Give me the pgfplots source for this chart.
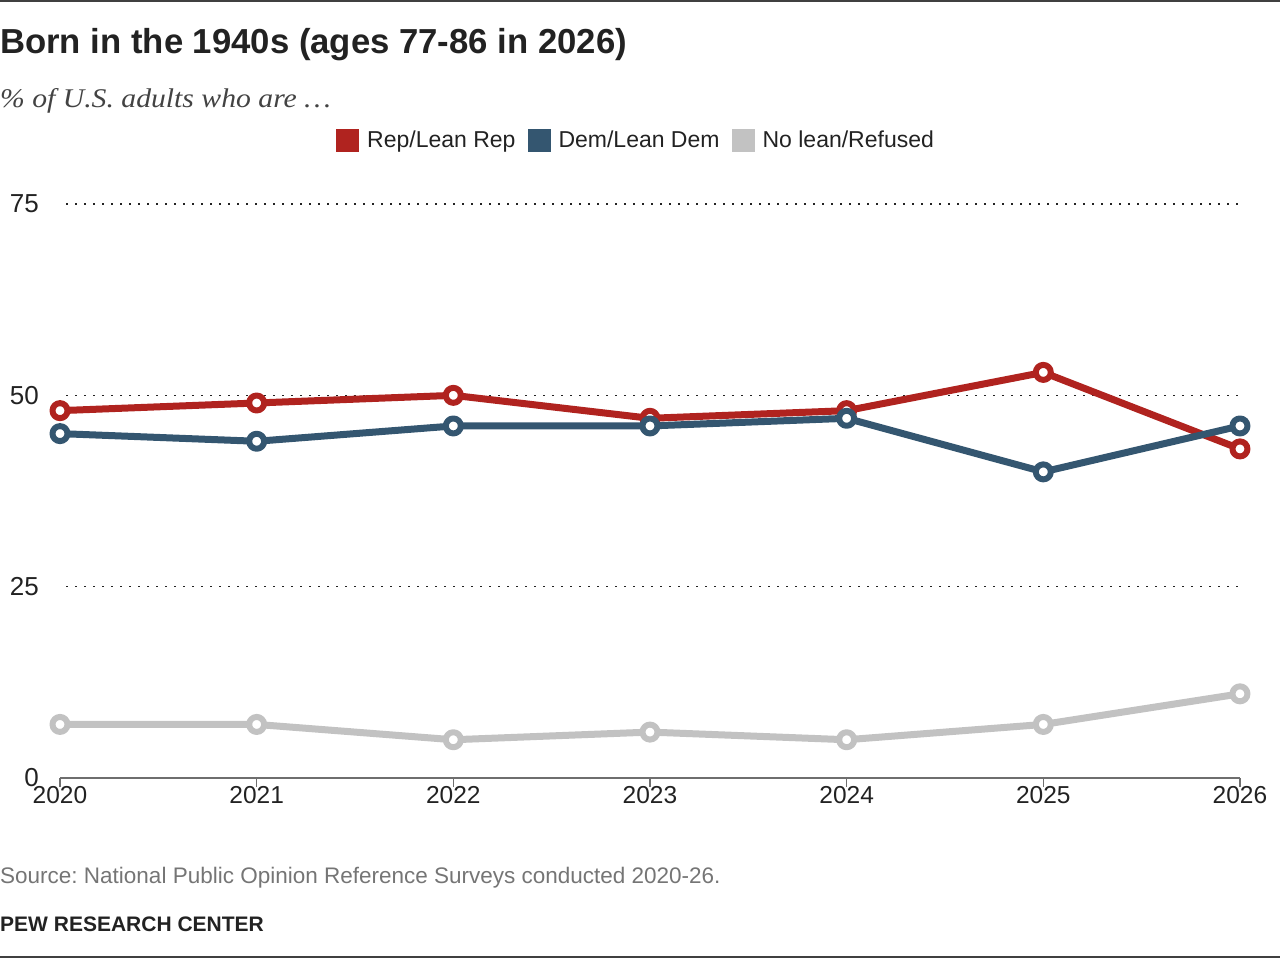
\documentclass[border=0pt]{standalone}
\usepackage{pgfplots}
\usepackage{pgfplotstable}
\pgfplotsset{compat=1.18}
\usepackage{fontspec}
\setmainfont{Liberation Sans}
\newfontfamily\subfont[FakeStretch=1.1]{Liberation Serif}
\frenchspacing

\definecolor{repred}{RGB}{176,35,31}
\definecolor{demblue}{RGB}{52,86,112}
\definecolor{nolean}{RGB}{194,194,194}
\definecolor{ink}{RGB}{34,34,34}
\definecolor{axisgray}{RGB}{110,110,110}
\definecolor{srcgray}{RGB}{117,117,117}
\definecolor{rulegray}{RGB}{64,64,64}

% Party identification, adults born in the 1940s
\pgfplotstableread{
year rep dem none
2020 48 45 7
2021 49 44 7
2022 50 46 5
2023 47 46 6
2024 48 47 5
2025 53 40 7
2026 43 46 11
}\survey

\begin{document}
\begin{tikzpicture}[x=1pt,y=1pt]
\useasboundingbox (0,0) rectangle (1280,-958);
\fill[rulegray] (0,0) rectangle (1280,-2.5);
\fill[rulegray] (0,-955.5) rectangle (1280,-958);

\node[anchor=base west, inner sep=0, font=\fontsize{34.7}{40}\selectfont\bfseries, text=ink] at (0,-54) {Born in the 1940s (ages 77-86 in 2026)};
\node[anchor=base west, inner sep=0, font=\fontsize{27}{32}\selectfont\subfont\itshape, text=ink!85] at (0,-107) {\% of U.S. adults who are \dots};
\node[anchor=base west, inner sep=0, font=\fontsize{22.5}{26}\selectfont, text=srcgray] at (0,-883) {Source: National Public Opinion Reference Surveys conducted 2020-26.};
\node[anchor=base west, inner sep=0, font=\fontsize{21}{25}\selectfont\bfseries, text=ink] at (0,-931.5) {PEW RESEARCH CENTER};

\begin{axis}[
  at={(60pt,-778pt)}, anchor=south west,
  scale only axis, width=1180pt, height=574pt,
  xmin=2020, xmax=2026, ymin=0, ymax=75,
  clip=false,
  axis x line*=bottom, axis y line*=left,
  x axis line style={draw=axisgray, line width=1.5pt, -},
  y axis line style={draw=none},
  xtick={2020,2021,2022,2023,2024,2025,2026},
  xticklabels={2020,2021,2022,2023,2024,2025,2026},
  ytick={25,50,75},
  extra y ticks={0},
  extra y tick style={grid=none},
  ymajorgrids,
  grid style={draw=ink, line width=1.5pt, dash pattern=on 1.5pt off 7.5pt, dash phase=3pt},
  tick align=outside,
  major tick length=9pt,
  xtick style={draw=axisgray, line width=1.5pt},
  ytick style={draw=none},
  /pgf/number format/assume math mode=true,
  /pgf/number format/1000 sep={},
  xticklabel style={font=\fontsize{24.5}{28}\selectfont, text=ink, anchor=center, inner sep=0pt, yshift=-8pt},
  yticklabel style={font=\fontsize{26}{30}\selectfont, text=ink, anchor=east, inner sep=0pt, xshift=-12pt},
  legend columns=3,
  legend image code/.code={\fill[#1] (0pt,-11.5pt) rectangle (23pt,11.5pt);},
  legend style={at={(axis description cs:0.2339,1.1115)}, anchor=west,
    draw=none, fill=none, inner sep=0pt,
    font=\fontsize{23}{27}\selectfont, text=ink,
    nodes={inner sep=0pt},
    /tikz/every odd column/.append style={column sep=8pt},
    /tikz/every even column/.append style={column sep=12pt}},
  every axis plot/.append style={line width=7pt, line join=round,
    mark=*, mark size=7.5pt},
]
\addlegendimage{fill=repred, draw=none}
\addlegendentry{Rep/Lean Rep}
\addlegendimage{fill=demblue, draw=none}
\addlegendentry{Dem/Lean Dem}
\addlegendimage{fill=nolean, draw=none}
\addlegendentry{No lean/Refused}

\addplot[nolean, mark options={fill=white, draw=nolean, line width=6pt}, forget plot]
  table[x=year, y=none] {\survey};
\addplot[repred, mark options={fill=white, draw=repred, line width=6pt}, forget plot]
  table[x=year, y=rep] {\survey};
\addplot[demblue, mark options={fill=white, draw=demblue, line width=6pt}, forget plot]
  table[x=year, y=dem] {\survey};
\end{axis}
\end{tikzpicture}
\end{document}
